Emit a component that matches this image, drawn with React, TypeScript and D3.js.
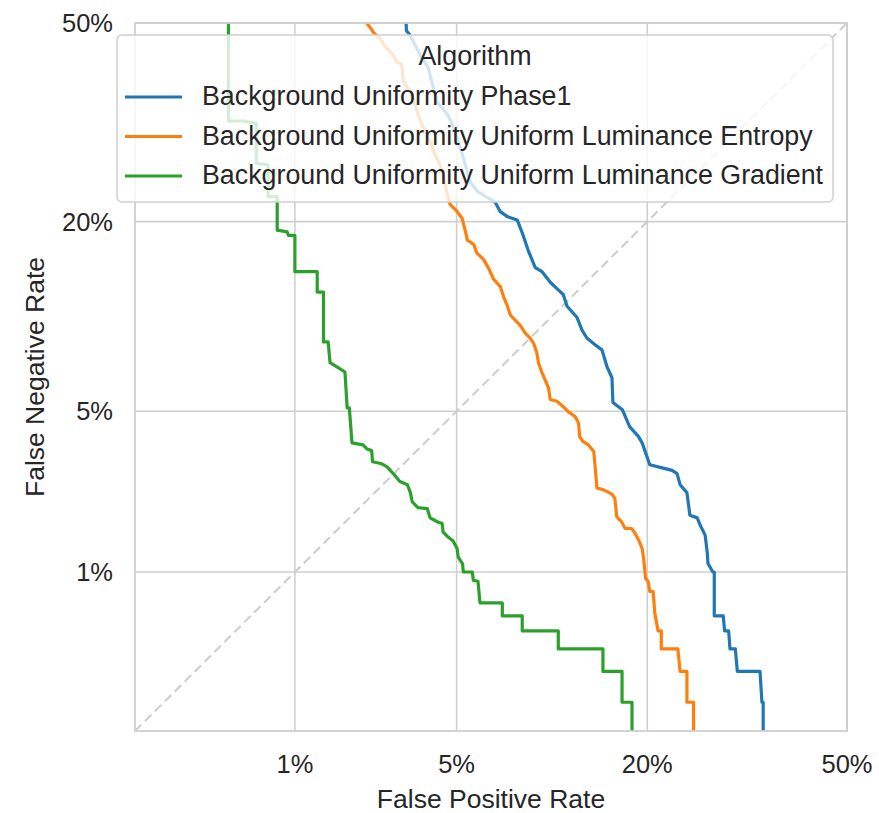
import * as d3 from "d3";
import React, { useEffect, useRef } from "react";

// DET curve values (percent)
const phase1Fpr = [3.16, 3.17, 3.26, 3.61, 3.88, 4.21, 4.64, 4.94, 5.26, 5.63, 6.0, 6.91, 7.2, 7.62, 8.23, 8.56, 8.95, 9.45, 9.94, 10.56, 11.19, 11.59, 11.91, 12.77, 13.2, 13.65, 14.42, 15.09, 15.6, 16.1, 16.2, 17.2, 18.0, 18.95, 19.4, 20.3, 21.8, 23.06, 23.7, 24.1, 25.0, 25.4, 26.4, 26.8, 27.5, 27.8, 27.9, 28.6, 28.8, 28.8, 30.1, 30.3, 30.9, 31.1, 31.9, 32.2, 35.7, 36.0, 36.2, 36.2];
const phase1Fnr = [50, 48.7, 48.1, 44.6, 42.5, 36.9, 34.8, 32.2, 28.8, 25.0, 23.7, 22.4, 21.2, 20.6, 20.2, 18.7, 16.8, 15.0, 14.6, 13.6, 12.9, 12.5, 11.5, 10.6, 9.68, 9.1, 8.64, 8.3, 7.26, 6.64, 5.39, 5.06, 4.35, 4.0, 3.76, 3.06, 2.97, 2.9, 2.81, 2.52, 2.33, 1.85, 1.8, 1.67, 1.5, 1.24, 1.1, 1.0, 1.0, 0.6, 0.6, 0.5, 0.5, 0.4, 0.4, 0.3, 0.3, 0.2, 0.2, 0.1];

const entropyFpr = [2.15, 2.27, 2.31, 2.46, 2.58, 2.76, 2.89, 3.03, 3.08, 3.29, 3.44, 3.5, 3.67, 3.84, 3.95, 4.13, 4.32, 4.45, 4.58, 4.72, 5.0, 5.24, 5.4, 5.48, 5.79, 5.94, 6.29, 6.56, 6.82, 7.2, 7.4, 7.6, 7.8, 8.1, 8.43, 8.76, 9.09, 9.33, 9.57, 9.68, 9.9, 10.17, 10.43, 10.56, 11.08, 11.6, 12.0, 12.6, 12.9, 13.0, 13.3, 13.8, 14.3, 14.4, 14.6, 15.2, 16.07, 16.4, 16.6, 17.1, 17.5, 18.2, 18.6, 19.0, 19.4, 19.6, 19.8, 20.1, 20.3, 20.7, 20.9, 21.3, 21.7, 21.7, 23.8, 24.1, 25.0, 25.0, 25.9, 25.9];
const entropyFnr = [50, 48.8, 48.3, 47.4, 46.0, 44.9, 43.5, 43.0, 40.2, 38.6, 36.4, 35.4, 33.3, 31.9, 30.8, 28.8, 27.4, 26.0, 23.8, 22.1, 21.3, 20.4, 18.8, 17.9, 17.4, 16.5, 15.8, 14.9, 13.9, 13.2, 12.3, 11.6, 10.8, 10.4, 10.0, 9.44, 9.09, 8.75, 8.09, 7.48, 7.0, 6.53, 6.09, 5.53, 5.45, 5.2, 4.98, 4.77, 4.5, 3.98, 3.81, 3.69, 3.47, 3.11, 2.44, 2.4, 2.3, 2.2, 1.82, 1.73, 1.61, 1.61, 1.53, 1.42, 1.3, 1.14, 0.93, 0.9, 0.8, 0.8, 0.62, 0.5, 0.5, 0.4, 0.4, 0.3, 0.3, 0.2, 0.2, 0.1];

const gradientFpr = [0.458, 0.458, 0.555, 0.64, 0.64, 0.736, 0.736, 0.818, 0.818, 0.917, 0.93, 1.0, 1.0, 1.28, 1.28, 1.37, 1.37, 1.44, 1.47, 1.58, 1.72, 1.76, 1.8, 1.85, 2.07, 2.16, 2.26, 2.28, 2.5, 2.63, 2.77, 2.98, 3.2, 3.29, 3.35, 3.53, 3.85, 3.95, 4.25, 4.4, 4.44, 4.64, 4.85, 5.02, 5.07, 5.26, 5.3, 5.72, 5.77, 6.0, 6.1, 7.32, 7.32, 8.56, 8.56, 11.19, 11.19, 15.19, 15.19, 17.16, 17.16, 18.25, 18.25];
const gradientFnr = [50, 33.9, 33.9, 33.5, 27.6, 27.4, 23.1, 23.1, 19.0, 18.8, 18.4, 18.4, 14.6, 14.6, 12.7, 12.7, 8.83, 8.83, 7.5, 7.26, 6.96, 5.15, 5.15, 3.76, 3.69, 3.55, 3.5, 3.15, 3.09, 3.0, 2.84, 2.6, 2.52, 2.33, 2.12, 2.0, 1.98, 1.8, 1.72, 1.7, 1.55, 1.47, 1.41, 1.3, 1.18, 1.1, 1.0, 1.0, 0.91, 0.9, 0.7, 0.7, 0.6, 0.6, 0.5, 0.5, 0.4, 0.4, 0.3, 0.3, 0.2, 0.2, 0.1];

const seriesNames = [
    "Background Uniformity Phase1",
    "Background Uniformity Uniform Luminance Entropy",
    "Background Uniformity Uniform Luminance Gradient",
];
const seriesColors = ["#1f77b4", "#ff7f0e", "#2ca02c"];
const tickPercents = [1, 5, 20, 50];

// inverse of the standard normal CDF (Acklam)
function probit(p: number): number {
    const a = [-39.69683028665376, 220.9460984245205, -275.9285104469687, 138.357751867269, -30.66479806614716, 2.506628277459239];
    const b = [-54.47609879822406, 161.5858368580409, -155.6989798598866, 66.80131188771972, -13.28068155288572];
    const c = [-0.007784894002430293, -0.3223964580411365, -2.400758277161838, -2.549671010584157, 4.374664141464968, 2.938163982698783];
    const d = [0.007784695709041462, 0.3224671290700398, 2.445134137142996, 3.754408661907416];
    const plow = 0.02425;
    if (p < plow) {
        const q = Math.sqrt(-2 * Math.log(p));
        return (((((c[0] * q + c[1]) * q + c[2]) * q + c[3]) * q + c[4]) * q + c[5]) / ((((d[0] * q + d[1]) * q + d[2]) * q + d[3]) * q + 1);
    }
    if (p <= 1 - plow) {
        const q = p - 0.5;
        const r = q * q;
        return ((((((a[0] * r + a[1]) * r + a[2]) * r + a[3]) * r + a[4]) * r + a[5]) * q) / (((((b[0] * r + b[1]) * r + b[2]) * r + b[3]) * r + b[4]) * r + 1);
    }
    const q = Math.sqrt(-2 * Math.log(1 - p));
    return -(((((c[0] * q + c[1]) * q + c[2]) * q + c[3]) * q + c[4]) * q + c[5]) / ((((d[0] * q + d[1]) * q + d[2]) * q + d[3]) * q + 1);
}

const FONT = "'Liberation Sans', Arial, sans-serif";
const TEXT = "#262626";
const GRID = "#cfcfcf";

function DetChart() {
    const ref = useRef<SVGSVGElement | null>(null);

    useEffect(() => {
        const svg = d3.select(ref.current);
        svg.selectAll("*").remove();

        const left = 135, right = 847, top = 23, bottom = 731;
        const x = d3.scaleLinear().domain([-3, 0]).range([left, right]);
        const y = d3.scaleLinear().domain([0, -3]).range([top, bottom]);
        const px = (pct: number) => x(probit(pct / 100));
        const py = (pct: number) => y(probit(pct / 100));

        svg.append("defs")
            .append("clipPath")
            .attr("id", "plotclip")
            .append("rect")
            .attr("x", left)
            .attr("y", top)
            .attr("width", right - left)
            .attr("height", bottom - top);

        // grid
        const grid = svg.append("g");
        tickPercents.forEach((t) => {
            grid.append("line")
                .attr("x1", px(t)).attr("x2", px(t))
                .attr("y1", top).attr("y2", bottom)
                .attr("stroke", GRID).attr("stroke-width", 1.6);
            grid.append("line")
                .attr("x1", left).attr("x2", right)
                .attr("y1", py(t)).attr("y2", py(t))
                .attr("stroke", GRID).attr("stroke-width", 1.6);
        });

        // chance diagonal
        svg.append("line")
            .attr("x1", x(-3)).attr("y1", y(-3))
            .attr("x2", x(0)).attr("y2", y(0))
            .attr("stroke", "#cccccc")
            .attr("stroke-width", 2)
            .attr("stroke-dasharray", "9,5");

        // curves
        const series = [
            { fpr: phase1Fpr, fnr: phase1Fnr },
            { fpr: entropyFpr, fnr: entropyFnr },
            { fpr: gradientFpr, fnr: gradientFnr },
        ];
        const line = d3.line<[number, number]>()
            .x((d) => px(d[0]))
            .y((d) => py(d[1]));
        const curves = svg.append("g").attr("clip-path", "url(#plotclip)");
        series.forEach((s, i) => {
            const pts = s.fpr.map((f, j) => [f, s.fnr[j]] as [number, number]);
            curves.append("path")
                .attr("d", line(pts))
                .attr("fill", "none")
                .attr("stroke", seriesColors[i])
                .attr("stroke-width", 3.2)
                .attr("stroke-linejoin", "round");
        });

        // frame
        svg.append("rect")
            .attr("x", left).attr("y", top)
            .attr("width", right - left).attr("height", bottom - top)
            .attr("fill", "none")
            .attr("stroke", GRID)
            .attr("stroke-width", 1.8);

        // tick labels
        tickPercents.forEach((t) => {
            svg.append("text")
                .attr("x", px(t)).attr("y", 773)
                .attr("text-anchor", "middle")
                .attr("font-size", 25.5).attr("font-family", FONT).attr("fill", TEXT)
                .text(t + "%");
            svg.append("text")
                .attr("x", 113).attr("y", py(t) + 9)
                .attr("text-anchor", "end")
                .attr("font-size", 25.5).attr("font-family", FONT).attr("fill", TEXT)
                .text(t + "%");
        });

        svg.append("text")
            .attr("x", (left + right) / 2).attr("y", 808)
            .attr("text-anchor", "middle")
            .attr("font-size", 26.5).attr("font-family", FONT).attr("fill", TEXT)
            .text("False Positive Rate");
        svg.append("text")
            .attr("transform", `translate(43.5,${(top + bottom) / 2}) rotate(-90)`)
            .attr("text-anchor", "middle")
            .attr("font-size", 26.5).attr("font-family", FONT).attr("fill", TEXT)
            .text("False Negative Rate");

        // legend
        const lg = svg.append("g");
        lg.append("rect")
            .attr("x", 117).attr("y", 35)
            .attr("width", 716).attr("height", 167)
            .attr("rx", 5)
            .attr("fill", "white").attr("fill-opacity", 0.8)
            .attr("stroke", "#d0d0d0").attr("stroke-width", 1.5);
        lg.append("text")
            .attr("x", 475).attr("y", 65)
            .attr("text-anchor", "middle")
            .attr("font-size", 26.8).attr("font-family", FONT).attr("fill", TEXT)
            .text("Algorithm");
        seriesNames.forEach((name, i) => {
            const base = 105 + i * 39.5;
            lg.append("line")
                .attr("x1", 125).attr("x2", 182)
                .attr("y1", base - 8).attr("y2", base - 8)
                .attr("stroke", seriesColors[i]).attr("stroke-width", 3.2);
            lg.append("text")
                .attr("x", 202).attr("y", base)
                .attr("font-size", 26.8).attr("font-family", FONT).attr("fill", TEXT)
                .text(name);
        });
    }, []);

    return (
        <svg
            ref={ref}
            width={879}
            height={813}
            style={{ position: "absolute", left: 0, top: 0, background: "white" }}
        />
    );
}

export default function App() {
    return <DetChart />;
}
